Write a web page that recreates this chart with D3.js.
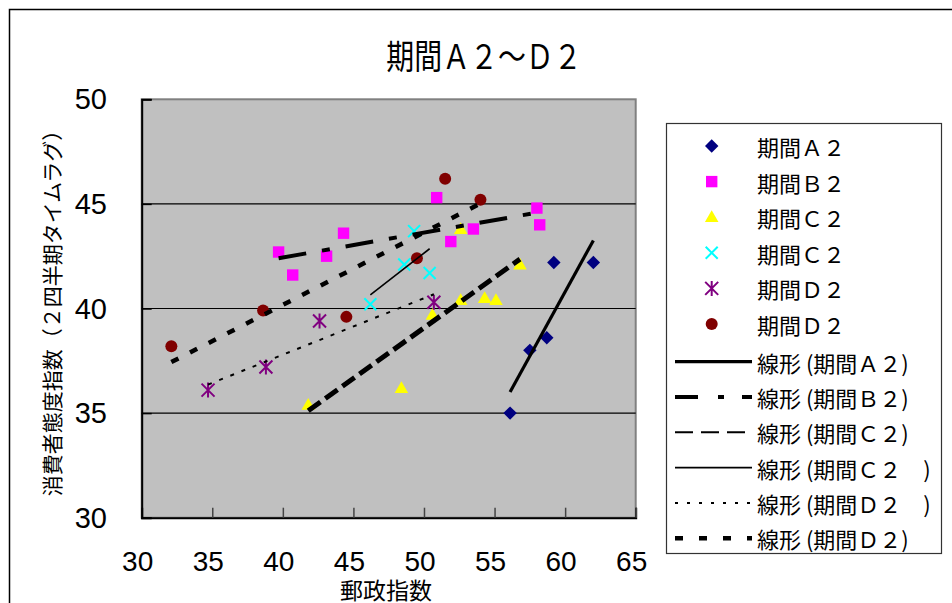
<!DOCTYPE html>
<html><head><meta charset="utf-8">
<script src="https://cdn.jsdelivr.net/npm/d3@7"></script>
<style>
html,body{margin:0;padding:0;background:#fff;}
svg{display:block;}
text{white-space:pre;}
</style></head>
<body>
<svg id="chart" width="952" height="603"></svg>
<script>
// ---- data ----
const seriesNames = ["期間Ａ２", "期間Ｂ２", "期間Ｃ２", "期間Ｃ２　", "期間Ｄ２　", "期間Ｄ２"];
const xA2 = [56.1, 57.5, 58.7, 59.2, 62.0];
const yA2 = [35.0, 38.0, 38.6, 42.2, 42.2];
const xB2 = [39.7, 40.7, 43.1, 44.3, 50.9, 51.9, 53.5, 58.0, 58.2];
const yB2 = [42.7, 41.6, 42.5, 43.6, 45.3, 43.2, 43.8, 44.8, 44.0];
const xC2 = [41.8, 48.4, 50.6, 52.6, 52.6, 54.3, 55.1, 56.8];
const yC2 = [35.4, 36.2, 39.7, 43.8, 40.4, 40.5, 40.4, 42.1];
const xC2b = [46.2, 48.6, 49.3, 50.4];
const yC2b = [40.2, 42.1, 43.7, 41.7];
const xD2 = [34.7, 38.8, 42.6, 50.7];
const yD2 = [36.1, 37.2, 39.4, 40.3];
const xD2b = [32.1, 38.6, 44.5, 49.5, 51.5, 54.0];
const yD2b = [38.2, 39.9, 39.6, 42.4, 46.2, 45.2];
const xTicks = [30, 35, 40, 45, 50, 55, 60, 65];
const yTicks = [30, 35, 40, 45, 50];
const titleText = "期間Ａ２～Ｄ２";
const xTitle = "郵政指数";
const yTitle = "消費者態度指数（２四半期タイムラグ）";
const trendPrefix = "線形 (";

const xs = [xA2, xB2, xC2, xC2b, xD2, xD2b];
const ys = [yA2, yB2, yC2, yC2b, yD2, yD2b];
const markerKinds = ["diamond", "square", "triangle", "x", "star", "circle"];
const colors = ["#000080", "#FF00FF", "#FFFF00", "#00FFFF", "#800080", "#800000"];
const trendStyles = [
  {w: 3.2, dash: null, lw: 3.2, ldash: null},
  {w: 4, dash: "28,16,8,16", lw: 4, ldash: "23,20,6,18"},
  {w: 5, dash: "15,6", lw: 2, ldash: "18,8"},
  {w: 1.6, dash: null, lw: 1.6, ldash: null},
  {w: 2, dash: "4,8", lw: 2, ldash: "3,9"},
  {w: 4.5, dash: "8,13", lw: 4.5, ldash: "8,16"}
];

const svg = d3.select("#chart");
const M = {left: 141.7, right: 635.7, top: 99.3, bottom: 517.7};
const x = d3.scaleLinear().domain([30, 65]).range([M.left, M.right]);
const y = d3.scaleLinear().domain([30, 50]).range([M.bottom, M.top]);

const sansCJK = "'Noto Sans CJK JP', 'Noto Sans', sans-serif";
const sansLat = "'Liberation Sans', Arial, sans-serif";

// outer chart border
svg.append("rect").attr("x", 9.5).attr("y", 9.5).attr("width", 960).attr("height", 620)
  .attr("fill", "none").attr("stroke", "#000").attr("stroke-width", 1.5);

// title
svg.append("text").attr("transform", "translate(484,54) scale(0.93,1.12)")
  .attr("text-anchor", "middle").attr("dominant-baseline", "central")
  .style("font-family", sansCJK).style("font-size", "30px").attr("fill", "#000")
  .text(titleText);

// plot area
svg.append("rect").attr("x", M.left).attr("y", M.top)
  .attr("width", M.right - M.left).attr("height", M.bottom - M.top)
  .attr("fill", "#C0C0C0").attr("stroke", "#808080").attr("stroke-width", 2);

// gridlines
svg.append("g").selectAll("line").data(yTicks.filter(d => d > 30 && d < 50)).join("line")
  .attr("x1", M.left).attr("x2", M.right)
  .attr("y1", d => y(d)).attr("y2", d => y(d))
  .attr("stroke", "#000").attr("stroke-width", 1.2);

// axes (ticks inside)
const gx = svg.append("g").attr("transform", `translate(0,${M.bottom})`)
  .call(d3.axisTop(x).tickValues(xTicks).tickSize(10).tickFormat(""));
gx.select(".domain").attr("stroke", "#000").attr("stroke-width", 2);
gx.selectAll(".tick line").attr("stroke", "#444").attr("stroke-width", 1.5);

const gy = svg.append("g").attr("transform", `translate(${M.left},0)`)
  .call(d3.axisRight(y).tickValues(yTicks).tickSize(10).tickFormat(""));
gy.select(".domain").attr("stroke", "#000").attr("stroke-width", 2);
gy.selectAll(".tick line").attr("stroke", "#000").attr("stroke-width", 1.5);

// tick labels
svg.append("g").selectAll("text").data(xTicks).join("text")
  .attr("x", d => x(d) - 4).attr("y", 561).attr("text-anchor", "middle")
  .attr("dominant-baseline", "central")
  .style("font-family", sansLat).style("font-size", "28px").text(d => d);
svg.append("g").selectAll("text").data(yTicks).join("text")
  .attr("x", 107).attr("y", d => y(d)).attr("text-anchor", "end")
  .attr("dominant-baseline", "central")
  .style("font-family", sansLat).style("font-size", "29px").text(d => d);

// axis titles
svg.append("text").attr("x", 386).attr("y", 589).attr("text-anchor", "middle")
  .attr("dominant-baseline", "central")
  .style("font-family", sansCJK).style("font-size", "23px").text(xTitle);
svg.append("text").attr("transform", "translate(51,308) rotate(-90)")
  .attr("text-anchor", "middle").attr("dominant-baseline", "central")
  .style("font-family", sansCJK).style("font-size", "21px").text(yTitle);

// marker drawer
function drawMarker(g, kind, color, cx, cy) {
  const t = `translate(${cx},${cy})`;
  if (kind === "diamond") {
    g.append("path").attr("d", d3.symbol(d3.symbolSquare, 90)()).attr("fill", color)
      .attr("transform", t + " rotate(45)");
  } else if (kind === "square") {
    g.append("path").attr("d", d3.symbol(d3.symbolSquare, 130)()).attr("fill", color).attr("transform", t);
  } else if (kind === "triangle") {
    g.append("path").attr("d", d3.symbol(d3.symbolTriangle, 80)()).attr("fill", color)
      .attr("transform", `translate(${cx},${cy + 1})`);
  } else if (kind === "circle") {
    g.append("circle").attr("cx", cx).attr("cy", cy).attr("r", 6).attr("fill", color);
  } else if (kind === "x") {
    const r = 6;
    g.append("path").attr("d", `M${-r},${-r}L${r},${r}M${-r},${r}L${r},${-r}`)
      .attr("stroke", color).attr("stroke-width", 2).attr("fill", "none").attr("transform", t);
  } else if (kind === "star") {
    const r = 6.5;
    g.append("path").attr("d", `M${-r},${-r}L${r},${r}M${-r},${r}L${r},${-r}M0,${-r - 1}L0,${r + 1}`)
      .attr("stroke", color).attr("stroke-width", 2).attr("fill", "none").attr("transform", t);
  }
}

// points
const pts = svg.append("g");
xs.forEach((xv, i) => {
  xv.forEach((v, j) => drawMarker(pts, markerKinds[i], colors[i], x(v), y(ys[i][j])));
});

// trend lines (least squares)
const trends = svg.append("g");
xs.forEach((xv, i) => {
  const yv = ys[i];
  const mx = d3.mean(xv), my = d3.mean(yv);
  let sxy = 0, sxx = 0;
  xv.forEach((v, j) => { sxy += (v - mx) * (yv[j] - my); sxx += (v - mx) * (v - mx); });
  const b = sxy / sxx, a = my - b * mx;
  const [x0, x1] = d3.extent(xv);
  const st = trendStyles[i];
  const ln = trends.append("line")
    .attr("x1", x(x0)).attr("y1", y(a + b * x0))
    .attr("x2", x(x1)).attr("y2", y(a + b * x1))
    .attr("stroke", "#000").attr("stroke-width", st.w);
  if (st.dash) ln.attr("stroke-dasharray", st.dash);
});

// legend
const lg = svg.append("g");
lg.append("rect").attr("x", 666.5).attr("y", 123.5).attr("width", 275).attr("height", 430)
  .attr("fill", "#fff").attr("stroke", "#333").attr("stroke-width", 1.2);
seriesNames.forEach((n, i) => {
  const ry = 146 + i * 35.6;
  drawMarker(lg, markerKinds[i], colors[i], 711.7, ry);
  lg.append("text").attr("x", 757).attr("y", ry).attr("dominant-baseline", "central")
    .style("font-family", sansCJK).style("font-size", "22px").text(n);
});
seriesNames.forEach((n, i) => {
  const ry = 361.7 + i * 35.3;
  const st = trendStyles[i];
  const ln = lg.append("line").attr("x1", 675).attr("x2", 752).attr("y1", ry).attr("y2", ry)
    .attr("stroke", "#000").attr("stroke-width", st.lw);
  if (st.ldash) ln.attr("stroke-dasharray", st.ldash);
  lg.append("text").attr("x", 757).attr("y", ry).attr("dominant-baseline", "central")
    .style("font-family", sansCJK).style("font-size", "22px").text(trendPrefix + n + ")");
});
</script>
</body></html>
